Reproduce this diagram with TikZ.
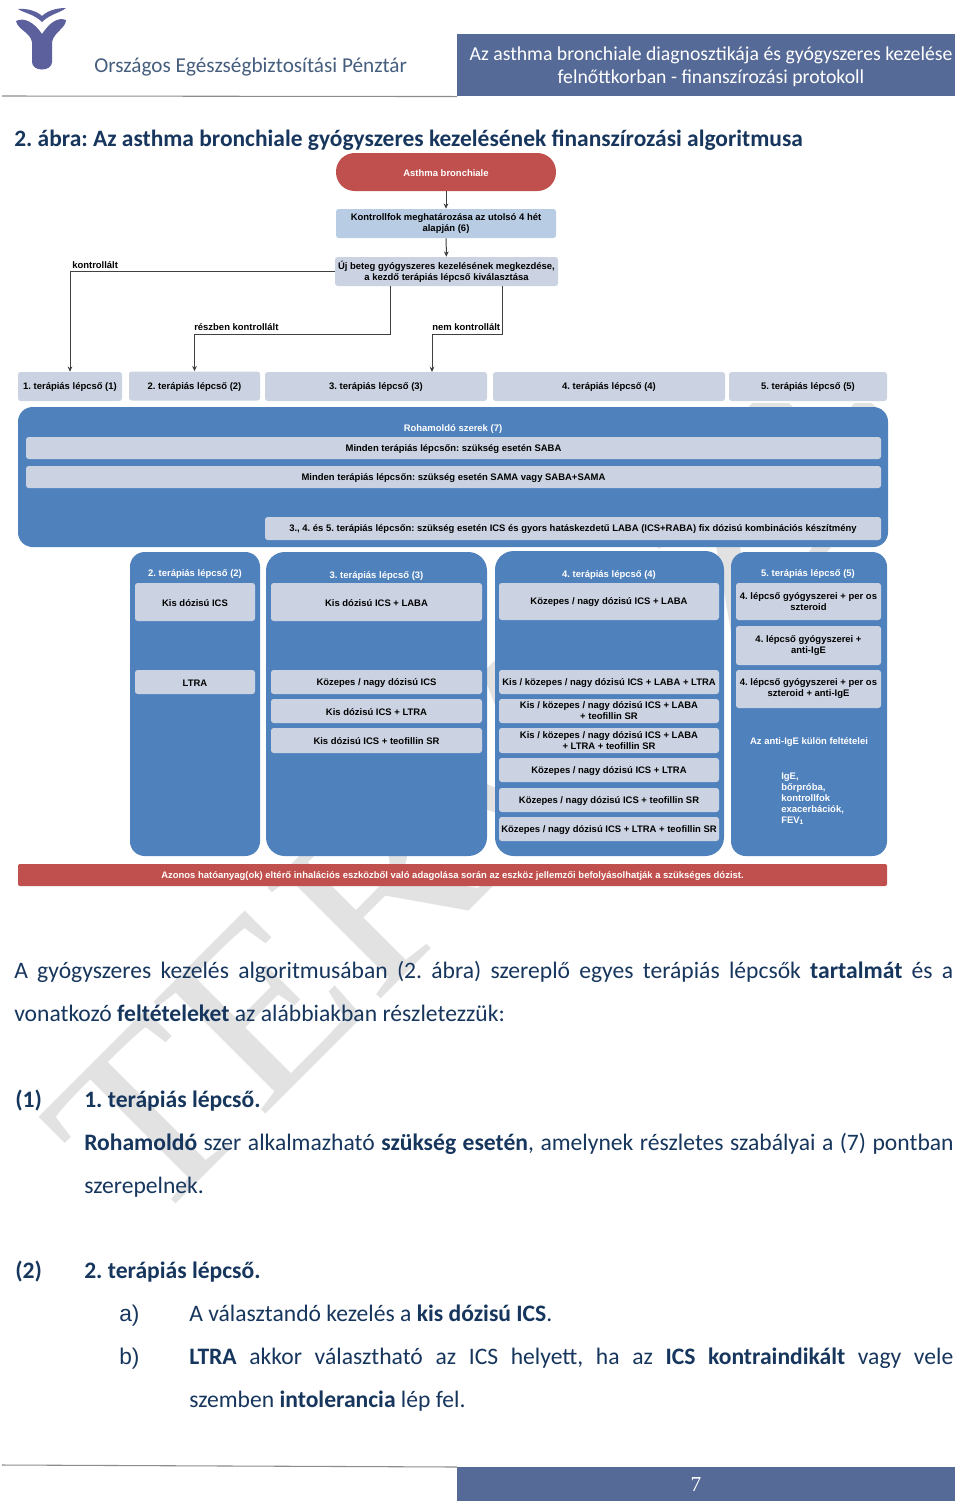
\documentclass[tikz,border=0pt]{standalone}
\usepackage{fontspec}
\usepackage{tikz}
\frenchspacing
\setmainfont{Carlito}
\newfontfamily\flowfont{Liberation Sans}
\newfontfamily\markfont{Liberation Serif}
\definecolor{stepgray}{RGB}{203,210,225}
\definecolor{flowblue}{RGB}{79,129,189}
\definecolor{flowred}{RGB}{192,80,77}
\definecolor{paleblue}{RGB}{184,204,228}
\definecolor{headblue}{RGB}{86,106,151}
\definecolor{inkblue}{RGB}{23,54,93}
\definecolor{logoblue}{RGB}{92,96,156}
\definecolor{markgray}{RGB}{226,226,226}
\tikzset{
  sz/.style 2 args={minimum width=#1*0.75pt,minimum height=#2*0.75pt},
  flowtext/.style={font=\flowfont\bfseries\fontsize{7.1}{8.25}\selectfont,align=center,inner sep=0pt,execute at begin node={\rule{0pt}{6.2pt}}},
  stepbox/.style={flowtext,fill=stepgray,rounded corners=2pt},
  panelbox/.style={flowtext,fill=flowblue,text=white,rounded corners=11pt},
  paneltext/.style={flowtext,text=white},
  flowlabel/.style={flowtext,anchor=west},
  flowline/.style={draw=black!75,line width=0.75pt},
  flowarrow/.style={flowline,-{Stealth[length=4pt,width=3.5pt]}},
  bodytext/.style={font=\fontsize{17.7}{20}\selectfont,text=inkblue,anchor=west,inner sep=0pt,execute at begin node={\rule[-4pt]{0pt}{19pt}}},
}
\usetikzlibrary{arrows.meta}
\begin{document}
\begin{tikzpicture}[x=0.75pt,y=0.75pt,yscale=-1,xscale=1]
        \useasboundingbox (0,0) rectangle (960,1507);
        \fill [white] (0,0) rectangle (960,1507);

        % Watermark
        \begin{scope}
        \clip (0,403) rectangle (887,1507);
        \node (watermark) [anchor=base west,rotate=45,inner sep=0pt,text=markgray,font=\markfont\fontsize{197}{197}\selectfont] at (147,1233) {\scalebox{1}[0.92]{TERVEZET}};
        \end{scope}

        % Logo
        \fill [logoblue] (16,21) .. controls (24,17) and (34,22) .. (42,34) .. controls (50,22) and (58,17) .. (66,20) .. controls (66,28) and (54,32) .. (52,42) -- (52,62) .. controls (52,72) and (32,72) .. (32,62) -- (32,42) .. controls (30,32) and (18,30) .. (16,21) -- cycle ;
        \fill [logoblue] (18,9) .. controls (28,8) and (38,12) .. (42,16) .. controls (46,12) and (54,8) .. (66,8) .. controls (60,13) and (50,14) .. (42,22) .. controls (34,14) and (24,13) .. (18,9) -- cycle ;

        % Header
        \node (office) [anchor=west,inner sep=0pt,text=inkblue!80,font=\fontsize{15.9}{18}\selectfont] at (94,67) {Országos Egészségbiztosítási Pénztár};
        \node (headbar) [anchor=north west,inner sep=0pt,fill=headblue,sz={498}{62}] at (457,34) {};
        \node (headtop) [text=white,inner sep=0pt,font=\fontsize{14.8}{18}\selectfont] at (711,55) {Az asthma bronchiale diagnosztikája és gyógyszeres kezelése};
        \node (headsub) [text=white,inner sep=0pt,font=\fontsize{14.8}{18}\selectfont] at (711,78) {felnőttkorban - finanszírozási protokoll};
        \draw [black!45,line width=0.8pt] (2,96) -- (headbar.south west) ;
        \node (figtitle) [anchor=west,inner sep=0pt,text=inkblue,font=\bfseries\fontsize{17.6}{20}\selectfont] at (14,140) {2. ábra: Az asthma bronchiale gyógyszeres kezelésének finanszírozási algoritmusa};

        % Top of the algorithm
        \node (asthma) [flowtext,fill=flowred,text=white,rounded corners=14pt,sz={220}{38}] at (446,172) {Asthma bronchiale};
        \node (grade) [flowtext,fill=paleblue,rounded corners=2pt,sz={220}{29}] at (446,223.5) {Kontrollfok meghatározása az utolsó 4 hét\\alapján (6)};
        \node (newpat) [stepbox,sz={223}{29}] at (446.5,271.5) {Új beteg gyógyszeres kezelésének megkezdése,\\a kezdő terápiás lépcső kiválasztása};

        % Step row
        \node (step1) [stepbox,sz={104}{29}] at (70,386.5) {1. terápiás lépcső (1)};
        \node (step2) [stepbox,sz={131}{29}] at (194.5,386) {2. terápiás lépcső (2)};
        \node (step3) [stepbox,sz={222}{29}] at (376,386.5) {3. terápiás lépcső (3)};
        \node (step4) [stepbox,sz={232}{29}] at (609,386.5) {4. terápiás lépcső (4)};
        \node (step5) [stepbox,sz={158}{29}] at (808,386.5) {5. terápiás lépcső (5)};

        % Connectors
        \coordinate (partout) at (390,286);
        \coordinate (partbend) at (390,334);
        \coordinate (notout) at (502,286);
        \coordinate (notbend) at (502,334);
        \coordinate (notin) at (432,372);
        \draw [flowarrow] (asthma) -- (grade) ;
        \draw [flowarrow] (grade) -- (newpat) ;
        \draw [flowarrow] (newpat.west) -| (step1.north) ;
        \draw [flowarrow] (partout) -- (partbend) -| (step2.north) ;
        \draw [flowarrow] (notout) -- (notbend) -| (notin) ;
        \node (lblctrl) [flowlabel] at (72,264.5) {kontrollált};
        \node (lblpart) [flowlabel] at (194,326.5) {részben kontrollált};
        \node (lblnot) [flowlabel] at (432,326.5) {nem kontrollált};

        % Reliever panel
        \node (relief) [panelbox,sz={870}{140}] at (453,477) {};
        \node (relieftitle) [paneltext] at (453,428) {Rohamoldó szerek (7)};
        \node (reliefa) [stepbox,sz={855}{22}] at (453.5,448) {Minden terápiás lépcsőn: szükség esetén SABA};
        \node (reliefb) [stepbox,sz={855}{22}] at (453.5,477) {Minden terápiás lépcsőn: szükség esetén SAMA vagy SABA+SAMA};
        \node (reliefc) [stepbox,sz={616}{23}] at (573,528.5) {3., 4. és 5. terápiás lépcsőn: szükség esetén ICS és gyors hatáskezdetű LABA (ICS+RABA) fix dózisú kombinációs készítmény};

        % Panels of the steps
        \node (panel2) [panelbox,sz={130}{304}] at (195,704) {};
        \node (panel3) [panelbox,rounded corners=14pt,sz={221}{304}] at (376.5,704) {};
        \node (panel4) [panelbox,rounded corners=14pt,sz={229}{305}] at (609.5,703.5) {};
        \node (panel5) [panelbox,sz={156}{304}] at (809,704) {};
        \node (title2) [paneltext] at (195,573) {2. terápiás lépcső (2)};
        \node (title3) [paneltext] at (376.5,575) {3. terápiás lépcső (3)};
        \node (title4) [paneltext] at (609,574.5) {4. terápiás lépcső (4)};
        \node (title5) [paneltext] at (808,573) {5. terápiás lépcső (5)};

        % Step 2
        \node (twoa) [stepbox,sz={120}{38}] at (195,602) {Kis dózisú ICS};
        \node (twob) [stepbox,sz={120}{24}] at (195,682) {LTRA};

        % Step 3
        \node (threea) [stepbox,sz={211}{38}] at (376.5,602) {Kis dózisú ICS + LABA};
        \node (threeb) [stepbox,sz={211}{24}] at (376.5,682) {Közepes / nagy dózisú ICS};
        \node (threec) [stepbox,sz={211}{24}] at (376.5,711) {Kis dózisú ICS + LTRA};
        \node (threed) [stepbox,sz={211}{25}] at (376.5,740.5) {Kis dózisú ICS + teofillin SR};

        % Step 4
        \node (foura) [stepbox,sz={220}{37}] at (609,601.5) {Közepes / nagy dózisú ICS + LABA};
        \node (fourb) [stepbox,sz={220}{24}] at (609,682) {Kis / közepes / nagy dózisú ICS + LABA + LTRA};
        \node (fourc) [stepbox,sz={220}{24}] at (609,711) {Kis / közepes / nagy dózisú ICS + LABA\\+ teofillin SR};
        \node (fourd) [stepbox,sz={220}{25}] at (609,740.5) {Kis / közepes / nagy dózisú ICS + LABA\\+ LTRA + teofillin SR};
        \node (foure) [stepbox,sz={220}{24}] at (609,770) {Közepes / nagy dózisú ICS + LTRA};
        \node (fourf) [stepbox,sz={220}{24}] at (609,800) {Közepes / nagy dózisú ICS + teofillin SR};
        \node (fourg) [stepbox,sz={220}{24}] at (609,829) {Közepes / nagy dózisú ICS + LTRA + teofillin SR};

        % Step 5
        \node (fivea) [stepbox,sz={145}{37}] at (808.5,601.5) {4. lépcső gyógyszerei + per os\\szteroid};
        \node (fiveb) [stepbox,sz={145}{39}] at (808.5,645.5) {4. lépcső gyógyszerei +\\anti-IgE};
        \node (fivec) [stepbox,sz={145}{38}] at (808.5,689) {4. lépcső gyógyszerei + per os\\szteroid + anti-IgE};
        \node (fivecond) [paneltext] at (809,741) {Az anti-IgE külön feltételei};
        \node (fivelist) [paneltext,align=left,anchor=north west] at (781,772.5) {IgE,\\bőrpróba,\\kontrollfok\\exacerbációk,\\FEV\textsubscript{1}};

        % Bottom bar
        \node (warnbar) [flowtext,fill=flowred,text=white,rounded corners=1.5pt,sz={869}{22}] at (452.5,875) {Azonos hatóanyag(ok) eltérő inhalációs eszközből való adagolása során az eszköz jellemzői befolyásolhatják a szükséges dózist.};

        % Text Node
        \node (linea) [bodytext] at (14,971) {\makebox[704.25pt][s]{A gyógyszeres kezelés algoritmusában (2. ábra) szereplő egyes terápiás lépcsők \textbf{tartalmát} és a}};
        \node (lineb) [bodytext] at (14,1014) {vonatkozó \textbf{feltételeket} az alábbiakban részletezzük:};
        \node (numa) [bodytext] at (15,1100) {\textbf{(1)}};
        \node (heada) [bodytext] at (84,1100) {\textbf{1. terápiás lépcső.}};
        \node (linec) [bodytext] at (84,1143) {\makebox[652pt][s]{\textbf{Rohamoldó} szer alkalmazható \textbf{szükség esetén}, amelynek részletes szabályai a (7) pontban}};
        \node (lined) [bodytext] at (84,1186) {szerepelnek.};
        \node (numb) [bodytext] at (15,1271) {\textbf{(2)}};
        \node (headb) [bodytext] at (84,1271) {\textbf{2. terápiás lépcső.}};
        \node (itema) [bodytext,font=\flowfont\fontsize{17}{20}\selectfont] at (119,1314) {a)};
        \node (linee) [bodytext] at (189,1314) {A választandó kezelés a \textbf{kis dózisú ICS}.};
        \node (itemb) [bodytext,font=\flowfont\fontsize{17}{20}\selectfont] at (119,1357) {b)};
        \node (linef) [bodytext] at (189,1357) {\makebox[573pt][s]{\textbf{LTRA} akkor választható az ICS helyett, ha az \textbf{ICS kontraindikált} vagy vele}};
        \node (lineg) [bodytext] at (189,1400) {szemben \textbf{intolerancia} lép fel.};

        % Footer
        \node (footbar) [anchor=north west,inner sep=0pt,fill=headblue,sz={498}{34}] at (457,1467) {};
        \draw [black!45,line width=0.8pt] (2,1465) -- (footbar.north west) ;
        \node (pagenum) [text=white,inner sep=0pt,font=\markfont\fontsize{16}{18}\selectfont] at (696,1484) {7};
\end{tikzpicture}
\end{document}
